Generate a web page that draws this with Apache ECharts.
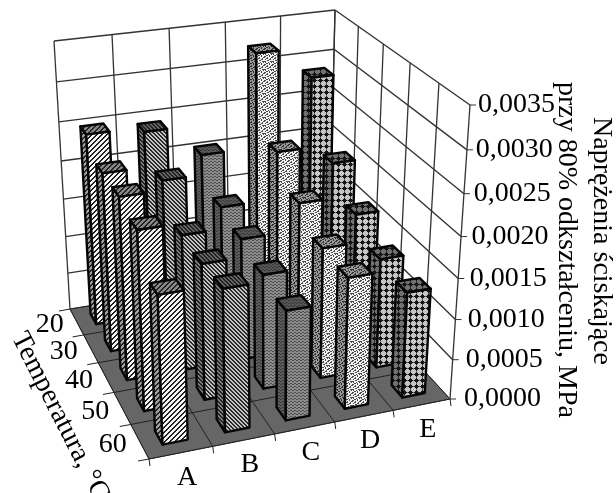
<!DOCTYPE html>
<html>
<head>
<meta charset="utf-8">
<style>html,body{margin:0;padding:0;background:#fff}#chart{width:616px;height:493px;filter:blur(0.4px)}</style>
<script src="https://cdn.jsdelivr.net/npm/echarts@6/dist/echarts.min.js"></script>
</head>
<body>
<div id="chart"></div>
<script>
// Dane
const categories = ['A', 'B', 'C', 'D', 'E'];
const temperatures = ['20', '30', '40', '50', '60'];
const valueTicks = [0, 0.0005, 0.001, 0.0015, 0.002, 0.0025, 0.003, 0.0035];
const seriesA = [0.00249, 0.00228, 0.00228, 0.00219, 0.00177];
const seriesB = [0.00243, 0.00209, 0.00171, 0.00168, 0.00172];
const seriesC = [0.00204, 0.00165, 0.00155, 0.00143, 0.00134];
const seriesD = [0.00324, 0.00225, 0.00189, 0.00164, 0.00161];
const seriesE = [0.00285, 0.00201, 0.00164, 0.00139, 0.00131];
const allSeries = [seriesA, seriesB, seriesC, seriesD, seriesE];

const valueMax = 0.0035;
const FONT = '28px "Liberation Serif"';
const TEXT_COLOR = '#000';

// Narozniki podlogi i gory: tyl-lewo, tyl-prawo, przod-prawo, przod-lewo
const floorQuad = [[70, 309], [329, 267], [450, 399], [149, 459]];
const topQuad = [[54, 41], [335, 10], [470, 105], [138, 147]];
const perspK = 0.08;
const barGap = 0.3;

function quadMap(p) {
    const [x0, y0] = p[0], [x1, y1] = p[1], [x2, y2] = p[2], [x3, y3] = p[3];
    const dx1 = x1 - x2, dx2 = x3 - x2, sx = x0 - x1 + x2 - x3;
    const dy1 = y1 - y2, dy2 = y3 - y2, sy = y0 - y1 + y2 - y3;
    const den = dx1 * dy2 - dx2 * dy1;
    const g = (sx * dy2 - dx2 * sy) / den;
    const h = (dx1 * sy - sx * dy1) / den;
    const a = x1 - x0 + g * x1, b = x3 - x0 + h * x3;
    const d = y1 - y0 + g * y1, e = y3 - y0 + h * y3;
    return (s, t) => {
        const w = g * s + h * t + 1;
        return [(a * s + b * t + x0) / w, (d * s + e * t + y0) / w];
    };
}
const floorMap = quadMap(floorQuad);
const topMap = quadMap(topQuad);

// u: 0-5 kategorie, v: 0-5 temperatury (0 = tyl), val: wartosc
function project(u, v, val) {
    const s = u / categories.length, t = v / temperatures.length;
    const a = floorMap(s, t), b = topMap(s, t);
    const r = val / valueMax;
    const f = r / (1 + perspK * (1 - r));
    return [a[0] + (b[0] - a[0]) * f, a[1] + (b[1] - a[1]) * f];
}

// Wypelnienia kolumn: colors[test(x, y)]
function tile(w, h, colors, test) {
    const c = document.createElement('canvas');
    c.width = w; c.height = h;
    const ctx = c.getContext('2d');
    for (let y = 0; y < h; y++) {
        for (let x = 0; x < w; x++) {
            ctx.fillStyle = colors[test(x, y)];
            ctx.fillRect(x, y, 1, 1);
        }
    }
    return { image: c, repeat: 'repeat' };
}
const diagUp = (x, y) => ((x + y) % 5 < 2 ? 1 : 0);
const diagDown = (x, y) => ((x - y + 40) % 4 < 2 ? 1 : 0);
const wavy = (x, y) => ((y + (x % 4 < 2 ? 0 : 1)) % 3 === 0 ? 1 : 0);
const STIPPLE = ['11000100', '10010001', '00110010', '01000110', '00011000', '11000011', '01001001', '00110100'];
const stipple = (x, y) => Number(STIPPLE[y][x]);
const dots = (x, y) => {
    const i = x % 6, j = y % 6;
    if (Math.abs(i - 2) + Math.abs(j - 2) <= 2) return 1;
    return i === 2 || j === 2 ? 2 : 0;
};

const patterns = [
    { front: tile(20, 20, ['#f6f6f6', '#222'], diagUp), side: tile(20, 20, ['#a0a0a0', '#222'], diagUp), top: tile(20, 20, ['#888', '#222'], diagUp) },
    { front: tile(20, 20, ['#c4c4c4', '#2a2a2a'], diagDown), side: tile(20, 20, ['#808080', '#222'], diagDown), top: tile(20, 20, ['#666', '#222'], diagDown) },
    { front: tile(12, 12, ['#8c8c8c', '#505050'], wavy), side: tile(12, 12, ['#5c5c5c', '#3a3a3a'], wavy), top: tile(12, 12, ['#555', '#3a3a3a'], wavy) },
    { front: tile(8, 8, ['#f2f2f2', '#4a4a4a'], stipple), side: tile(8, 8, ['#999', '#2c2c2c'], stipple), top: tile(8, 8, ['#999', '#333'], stipple) },
    { front: tile(12, 12, ['#c4c4c4', '#151515', '#777'], dots), side: tile(12, 12, ['#707070', '#151515', '#3c3c3c'], dots), top: tile(12, 12, ['#707070', '#151515', '#3c3c3c'], dots) }
];

// Kolejnosc rysowania: od tylu do przodu, w rzedzie od prawej do lewej
const barData = [];
temperatures.forEach((t, row) => {
    for (let col = categories.length - 1; col >= 0; col--) {
        barData.push([col, row, allSeries[col][row]]);
    }
});

function renderBar(params, api) {
    const col = api.value(0), row = api.value(1), val = api.value(2);
    const u0 = col + barGap, u1 = col + 1 - barGap;
    const v0 = row + barGap, v1 = row + 1 - barGap;
    const pt = (u, v, w) => api.coord(project(u, v, w));
    const pat = patterns[col];
    const face = (points, fill) => ({
        type: 'polygon',
        shape: { points: points },
        style: { fill: fill, stroke: '#050505', lineWidth: 2.4, lineJoin: 'round' }
    });
    return {
        type: 'group',
        children: [
            face([pt(u0, v0, 0), pt(u0, v1, 0), pt(u0, v1, val), pt(u0, v0, val)], pat.side),
            face([pt(u0, v0, val), pt(u1, v0, val), pt(u1, v1, val), pt(u0, v1, val)], pat.top),
            face([pt(u0, v1, 0), pt(u1, v1, 0), pt(u1, v1, val), pt(u0, v1, val)], pat.front)
        ]
    };
}

function renderFrame(params, api) {
    const nu = categories.length, nv = temperatures.length;
    const pt = (u, v, w) => api.coord(project(u, v, w));
    const line = (a, b, color, width) => ({
        type: 'line',
        shape: { x1: a[0], y1: a[1], x2: b[0], y2: b[1] },
        style: { stroke: color, lineWidth: width }
    });
    const label = (p, text, align, vAlign) => ({
        type: 'text',
        style: { x: p[0], y: p[1], text: text, font: FONT, fill: TEXT_COLOR, align: align, verticalAlign: vAlign }
    });
    const wall = '#333';
    const kids = [];
    kids.push({
        type: 'polygon',
        shape: { points: [pt(0, 0, 0), pt(nu, 0, 0), pt(nu, nv, 0), pt(0, nv, 0)] },
        style: { fill: '#666', stroke: '#444', lineWidth: 1 }
    });
    valueTicks.forEach((val) => {
        if (val > 0) {
            kids.push(line(pt(0, 0, val), pt(nu, 0, val), wall, 1.4));
            kids.push(line(pt(nu, 0, val), pt(nu, nv, val), wall, 1.4));
        }
        const p = pt(nu, nv, val);
        kids.push(line(p, [p[0] + 6, p[1]], wall, 1));
        kids.push(label([p[0] + 14 - (val / valueMax) * 6, p[1]], val.toFixed(4).replace('.', ','), 'left', 'middle'));
    });
    for (let u = 0; u <= nu; u++) {
        kids.push(line(pt(u, 0, 0), pt(u, 0, valueMax), wall, 1.3));
        kids.push(line(pt(u, 0, 0), pt(u, nv, 0), '#222', 1));
        const p = pt(u, nv, 0);
        kids.push(line(p, [p[0] + 1, p[1] + 7], '#222', 1));
    }
    for (let v = 0; v <= nv; v++) {
        kids.push(line(pt(nu, v, 0), pt(nu, v, valueMax), wall, 1.3));
        kids.push(line(pt(0, v, 0), pt(nu, v, 0), '#222', 1));
        const p = pt(0, v, 0);
        kids.push(line(p, [p[0] - 11, p[1] + 2], '#222', 1));
    }
    categories.forEach((c, i) => {
        const p = pt(i + 0.5, nv, 0);
        kids.push(label([p[0] + 6, p[1] + 25], c, 'center', 'middle'));
    });
    temperatures.forEach((t, i) => {
        const p = pt(0, i + 0.5, 0);
        kids.push(label([p[0] - 13, p[1] + 3], t, 'right', 'middle'));
    });
    return { type: 'group', children: kids };
}

const chart = echarts.init(document.getElementById('chart'));
chart.setOption({
    animation: false,
    backgroundColor: '#fff',
    grid: { left: 0, right: 0, top: 0, bottom: 0 },
    xAxis: { type: 'value', min: 0, max: 616, show: false },
    yAxis: { type: 'value', min: 0, max: 493, inverse: true, show: false },
    series: [
        { type: 'custom', silent: true, clip: false, data: [[0]], renderItem: renderFrame, z: 1 },
        { type: 'custom', silent: true, clip: false, data: barData, renderItem: renderBar, z: 2,
          encode: { x: 0, y: 1 } }
    ],
    graphic: { elements: [
        { type: 'text', x: 601, y: 241, rotation: -Math.PI / 2, z: 5,
          style: { text: 'Naprężenia ściskające', font: FONT, fill: TEXT_COLOR, align: 'center', verticalAlign: 'middle' } },
        { type: 'text', x: 566, y: 250, rotation: -Math.PI / 2, z: 5,
          style: { text: 'przy 80% odkształceniu, MPa', font: FONT, fill: TEXT_COLOR, align: 'center', verticalAlign: 'middle' } },
        { type: 'text', x: 18, y: 334, rotation: -1.1, z: 5,
          style: { text: 'Temperatura, °C', font: FONT, fill: TEXT_COLOR, align: 'left', verticalAlign: 'middle' } }
    ] }
});
</script>
</body>
</html>
